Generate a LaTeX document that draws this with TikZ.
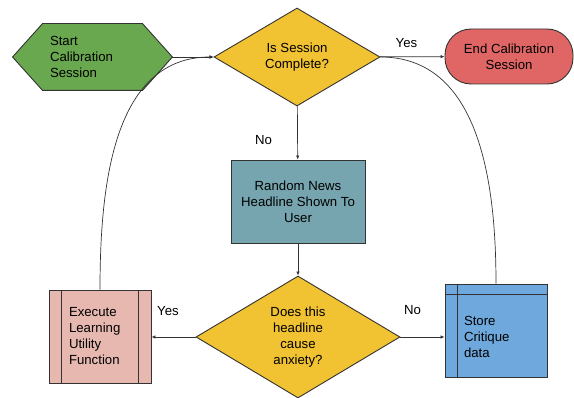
\documentclass[tikz,border=0pt]{standalone}
\usepackage{fontspec}
\setmainfont{Liberation Sans}
\usetikzlibrary{arrows.meta, shapes.geometric, calc, backgrounds}
\definecolor{startgreen}{HTML}{6AA84F}
\definecolor{askyellow}{HTML}{F1C232}
\definecolor{endred}{HTML}{E06666}
\definecolor{newsteal}{HTML}{76A5AF}
\definecolor{execpink}{HTML}{E6B8AF}
\definecolor{storeblue}{HTML}{6FA8DC}
\definecolor{edgegrey}{HTML}{333333}
\tikzset{
  shapebase/.style={draw=edgegrey, line width=0.9pt, inner sep=0pt, font=\fontsize{13.2}{16}\selectfont},
  decision/.style={shapebase, diamond, fill=askyellow, align=center},
  procbox/.style={shapebase, rectangle, minimum width=102pt, minimum height=93pt},
  conn/.style={draw=edgegrey, line width=0.7pt, -{Latex[length=4pt,width=3.5pt]}},
  plainline/.style={draw=edgegrey, line width=0.7pt},
  lbl/.style={font=\fontsize{13.2}{16}\selectfont}
}

\begin{document}
\begin{tikzpicture}[x=1pt, y=-1pt]
          \useasboundingbox (0,0) rectangle (574,398);
          \node[shapebase, draw=none, minimum width=159pt, minimum height=66pt, text width=85pt, align=left] (start) at (92.5,57) {Start\\Calibration\\Session};
          \begin{scope}[on background layer]
            \draw[draw=edgegrey, line width=0.9pt, fill=startgreen] (start.west) -- ([xshift=30pt]start.north west) -- ([xshift=-30pt]start.north east) -- (start.east) -- ([xshift=-30pt]start.south east) -- ([xshift=30pt]start.south west) -- cycle;
          \end{scope}
          \node[decision, minimum width=166pt, minimum height=98pt] (ask) at (297,57) {Is Session\\Complete?};
          \node[shapebase, rectangle, rounded corners=26pt, fill=endred, minimum width=128pt, minimum height=55pt, align=center] (finish) at (509,56.5) {End Calibration\\Session};
          \node[shapebase, rectangle, fill=newsteal, minimum width=134pt, minimum height=83pt, align=center] (news) at (298,201.5) {Random News\\Headline Shown To\\User};
          \node[decision, minimum width=204pt, minimum height=122pt] (anx) at (298,337) {Does this\\headline\\cause\\anxiety?};
          \node[procbox, fill=execpink, text width=62pt, align=left] (exec) at (100,336.5) {Execute\\Learning\\Utility\\Function};
          \node[procbox, fill=storeblue] (store) at (496,330.5) {};
          \node[lbl, text width=64pt, align=left] (storetext) at ([yshift=-6.5pt]store.center) {Store\\Critique\\data};
          \draw[plainline] ([xshift=13pt]exec.north west) -- ([xshift=13pt]exec.south west);
          \draw[plainline] ([xshift=-13pt]exec.north east) -- ([xshift=-13pt]exec.south east);
          \draw[plainline] ([xshift=13pt]store.north west) -- ([xshift=13pt]store.south west);
          \draw[plainline] ([yshift=-11pt]store.north west) -- ([yshift=-11pt]store.north east);
          \draw[conn] (start.east) -- (ask.west);
          \draw[conn] (ask) -- (finish);
          \draw[conn] (ask) -- (news);
          \draw[conn] (news) -- (anx);
          \draw[conn] (anx.west) -- (anx.west -| exec.east);
          \draw[conn] (anx.east) -- (anx.east -| store.west);
          \draw[conn] (exec.north) to[out=90, in=180] (ask.west);
          \draw[plainline] (store.north) to[out=90, in=0] (ask.east);
          \node[lbl] (yesend) at (406.5,43) {Yes};
          \node[lbl] (nonews) at (263.5,140) {No};
          \node[lbl] (yesexec) at (168,311) {Yes};
          \node[lbl] (nostore) at (412.5,310) {No};
        \end{tikzpicture}
\end{document}
